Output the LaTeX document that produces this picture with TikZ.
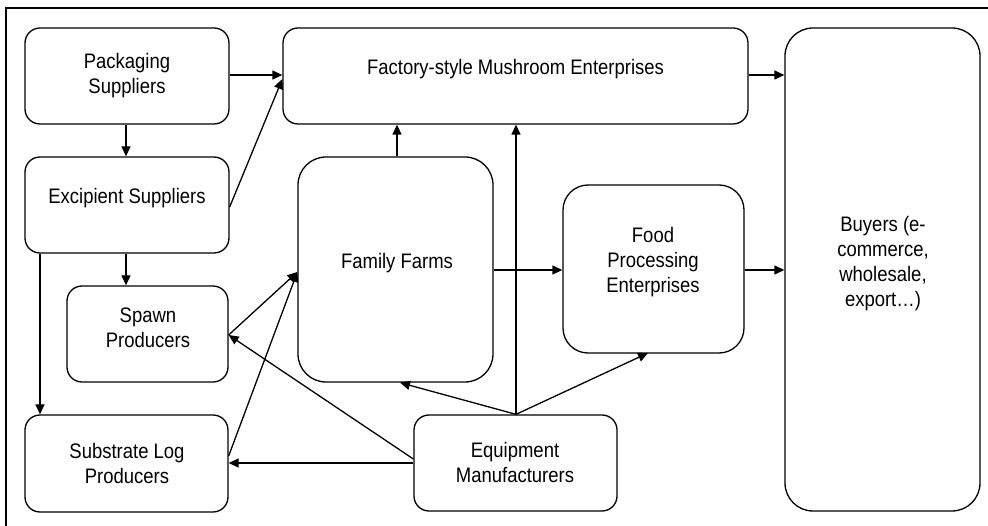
\documentclass[tikz,border=0pt]{standalone}
\usepackage{fontspec}
\setmainfont{Liberation Sans}[FakeStretch=0.88]
\usetikzlibrary{arrows.meta}
\begin{document}
\begin{tikzpicture}[x=1pt,y=-1pt,
  box/.style={draw, line width=1.3pt, rounded corners=15pt, inner sep=0pt},
  txt/.style={align=center, font=\fontsize{21}{25}\selectfont, inner sep=0pt},
  arr/.style={line width=1.3pt, -{Triangle[length=10pt,width=9pt]}}]
\useasboundingbox (0,0) rectangle (988,526);
\draw[line width=2.5pt] (6,530) -- (6,8) -- (995,8);
% boxes
\node[box, minimum width=204pt, minimum height=96pt] (pack) at (127,76) {};
\node[box, minimum width=204pt, minimum height=96pt] (exc) at (127,205) {};
\node[box, minimum width=465pt, minimum height=96pt] (fac) at (515.5,76) {};
\node[box, minimum width=195pt, minimum height=483pt, rounded corners=28pt] (buy) at (882.5,269.5) {};
\node[box, minimum width=195pt, minimum height=225pt, rounded corners=28pt] (fam) at (395.5,269.5) {};
\node[box, minimum width=181pt, minimum height=168pt, rounded corners=25pt] (food) at (653.5,269) {};
\node[box, minimum width=161pt, minimum height=96pt] (spawn) at (147.5,334) {};
\node[box, minimum width=203pt, minimum height=97pt] (sub) at (126.5,463.5) {};
\node[box, minimum width=203pt, minimum height=96pt] (equip) at (515.5,463) {};
% texts
\node[txt] (tpack) at (127,76) {Packaging\\Suppliers};
\node[txt] (texc) at (127,198) {Excipient Suppliers};
\node[txt] (tfac) at (515.5,69) {Factory-style Mushroom Enterprises};
\node[txt] (tbuy) at (883,264) {Buyers (e-\\commerce,\\wholesale,\\export…)};
\node[txt] (tfam) at (397,263) {Family Farms};
\node[txt] (tfood) at (653,262) {Food\\Processing\\Enterprises};
\node[txt] (tspawn) at (148,328) {Spawn\\Producers};
\node[txt] (tsub) at (127,463) {Substrate Log\\Producers};
\node[txt] (tequip) at (515,462) {Equipment\\Manufacturers};
% connectors
\draw[arr] (pack.east |- 0,75) -- (fac.west |- 0,75);
\draw[arr] (exc.east |- 0,207) -- (fac.west |- 0,79);
\draw[arr] (pack.south -| 126,0) -- (exc.north -| 126,0);
\draw[arr] (exc.south -| 126,0) -- (spawn.north -| 126,0);
\draw[arr] (exc.south -| 40,0) -- (sub.north -| 40,0);
\draw[arr] (fam.north -| 397,0) -- (fac.south -| 397,0);
\draw[arr] (equip.north -| 516,0) -- (fac.south -| 516,0);
\draw[arr] (equip.north -| 516,0) -- (fam.south -| 400,0);
\draw[arr] (equip.north -| 516,0) -- (648,353);
\draw[arr] (equip.west |- 0,459) -- (spawn.east |- 0,335);
\draw[arr] (equip.west |- 0,463) -- (sub.east |- 0,463);
\draw[arr] (spawn.east |- 0,335) -- (fam.west |- 0,272);
\draw[arr] (sub.east |- 0,456) -- (fam.west |- 0,272);
\draw[arr] (fam.east |- 0,270) -- (food.west |- 0,270);
\draw[arr] (food.east |- 0,270) -- (buy.west |- 0,270);
\draw[arr] (fac.east |- 0,75) -- (buy.west |- 0,75);
\end{tikzpicture}
\end{document}
